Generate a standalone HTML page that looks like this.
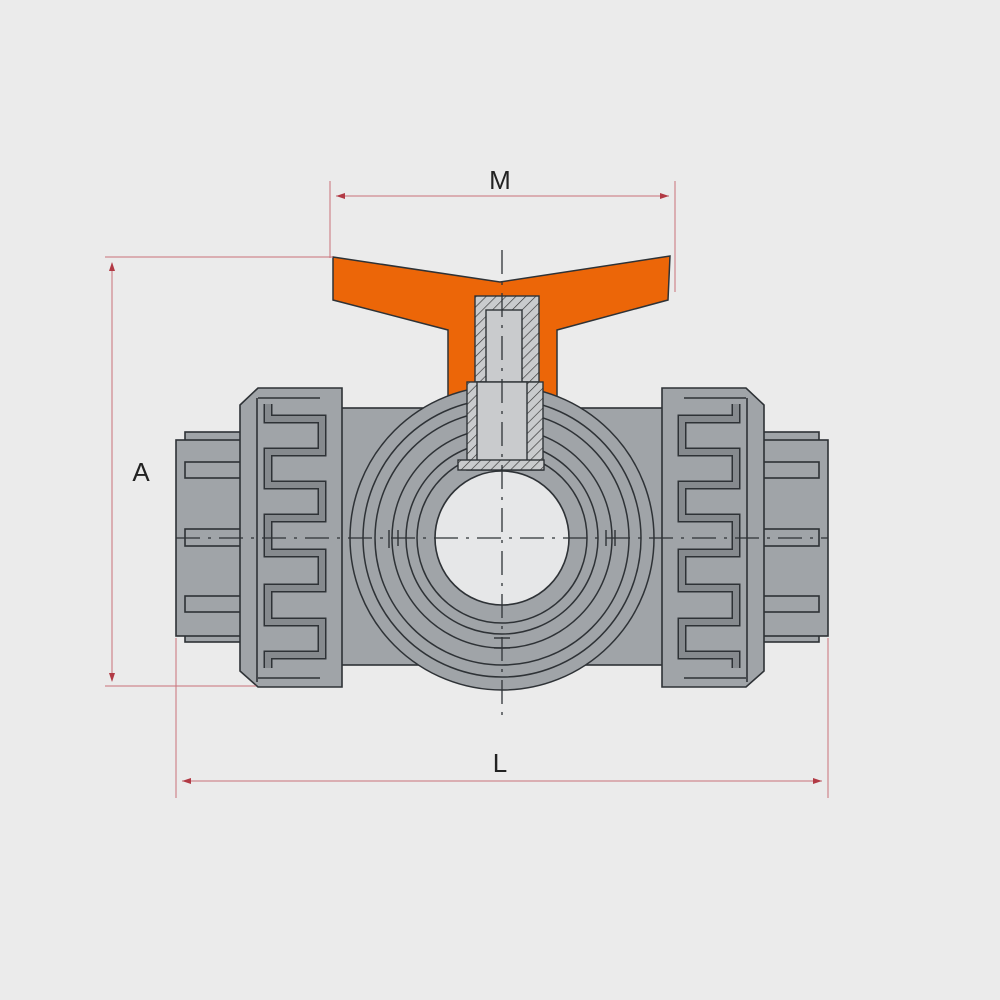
<!DOCTYPE html>
<html><head><meta charset="utf-8"><style>
html,body{margin:0;padding:0;background:#ebebeb;}
svg{display:block}
text{font-family:"Liberation Sans",sans-serif;font-size:26px;fill:#222}
</style></head><body>
<svg width="1000" height="1000" viewBox="0 0 1000 1000" xmlns="http://www.w3.org/2000/svg">
<defs>
<pattern id="h" width="7" height="7" patternUnits="userSpaceOnUse" patternTransform="rotate(45)">
<rect width="7" height="7" fill="#c9cbcd"/><line x1="0" y1="0" x2="0" y2="7" stroke="#333" stroke-width="1.3"/>
</pattern>
<g id="side" stroke="#2e3236" stroke-width="1.6" fill="#a0a4a8">
  <rect x="185" y="432" width="58" height="210"/>
  <rect x="176" y="440" width="67" height="196"/>
  <rect x="185" y="462" width="57" height="16"/>
  <rect x="185" y="529" width="57" height="17"/>
  <rect x="185" y="596" width="57" height="16"/>
  <polygon points="258,388 342,388 342,687 258,687 240,671 240,405"/>
  <line x1="257" y1="398" x2="257" y2="682"/>
  <line x1="258" y1="398" x2="320" y2="398"/>
  <line x1="258" y1="678" x2="320" y2="678"/>
  <path d="M268,404 V419 H322 V452 H268 V485 H322 V518 H268 V553 H322 V588 H268 V622 H322 V655 H268 V668" fill="none" stroke="#2e3236" stroke-width="9"/>
  <path d="M268,404 V419 H322 V452 H268 V485 H322 V518 H268 V553 H322 V588 H268 V622 H322 V655 H268 V668" fill="none" stroke="#868a8e" stroke-width="6"/>
</g>
</defs>
<rect width="1000" height="1000" fill="#ebebeb"/>

<rect x="340" y="408" width="324" height="257" fill="#a0a4a8" stroke="#2e3236" stroke-width="1.6"/>
<use href="#side"/>
<use href="#side" transform="translate(1004,0) scale(-1,1)"/>

<path d="M333,257 L500,282 L670,256 L668,300 L557,330 L557,398 L448,398 L448,330 L333,300 Z" fill="#ec6608" stroke="#2e3236" stroke-width="1.5"/>

<g stroke="#2e3236" stroke-width="1.5" fill="#a0a4a8">
<circle cx="502" cy="538" r="152"/>
<circle cx="502" cy="538" r="139"/>
<circle cx="502" cy="538" r="127"/>
<circle cx="502" cy="538" r="110"/>
<circle cx="502" cy="538" r="96"/>
<circle cx="502" cy="538" r="85"/>
</g>
<g stroke="#2e3236" stroke-width="1.4">
<line x1="389" y1="530" x2="389" y2="548"/><line x1="398" y1="530" x2="398" y2="546"/>
<line x1="606" y1="530" x2="606" y2="546"/><line x1="615" y1="530" x2="615" y2="546"/>
<line x1="494" y1="638" x2="510" y2="638"/><line x1="494" y1="648" x2="510" y2="648"/>
</g>
<circle cx="502" cy="538" r="67" fill="#e6e7e8" stroke="#2e3236" stroke-width="1.6"/>

<g stroke="#2e3236" stroke-width="1.4">
<rect x="475" y="296" width="64" height="86" fill="url(#h)"/>
<rect x="486" y="310" width="36" height="74" fill="#c9cbcd"/>
<rect x="467" y="382" width="76" height="88" fill="url(#h)"/>
<rect x="477" y="382" width="50" height="80" fill="#c9cbcd"/>
<rect x="458" y="460" width="86" height="10" fill="url(#h)"/>
</g>

<g stroke="#2e3236" stroke-width="1.3" stroke-dasharray="24,8,3,8" fill="none">
<line x1="502" y1="250" x2="502" y2="718"/>
<line x1="176" y1="538" x2="828" y2="538"/>
</g>

<g stroke="#c9727a" stroke-width="1" fill="none">
<line x1="330" y1="181" x2="330" y2="258"/>
<line x1="675" y1="181" x2="675" y2="292"/>
<line x1="336" y1="196" x2="669" y2="196"/>
<line x1="105" y1="257" x2="333" y2="257"/>
<line x1="105" y1="686" x2="256" y2="686"/>
<line x1="112" y1="263" x2="112" y2="681"/>
<line x1="176" y1="638" x2="176" y2="798"/>
<line x1="828" y1="638" x2="828" y2="798"/>
<line x1="182" y1="781" x2="822" y2="781"/>
</g>
<g fill="#b23a45">
<polygon points="336,196 345,193 345,199"/>
<polygon points="669,196 660,193 660,199"/>
<polygon points="112,262 109,271 115,271"/>
<polygon points="112,682 109,673 115,673"/>
<polygon points="182,781 191,778 191,784"/>
<polygon points="822,781 813,778 813,784"/>
</g>
<text x="500" y="189" text-anchor="middle">M</text>
<text x="141" y="481" text-anchor="middle">A</text>
<text x="500" y="772" text-anchor="middle">L</text>
</svg>
</body></html>
